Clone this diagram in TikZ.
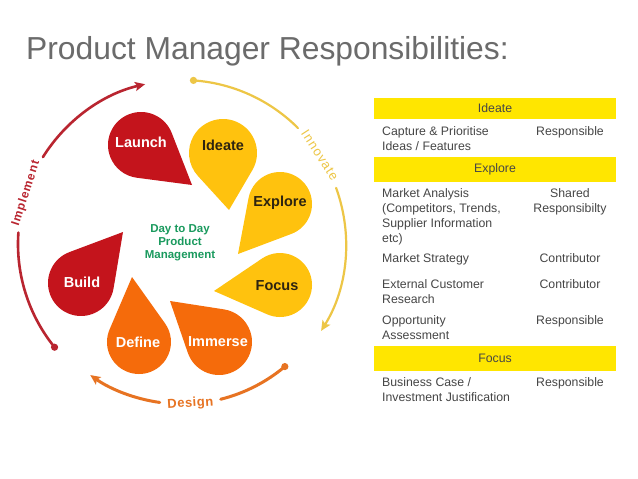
\documentclass[tikz,border=0pt]{standalone}
\usepackage{fontspec}
\setmainfont{Liberation Sans}
\usetikzlibrary{arrows.meta}
\definecolor{pinred}{HTML}{C4141C}
\definecolor{pinyellow}{HTML}{FFC20E}
\definecolor{pinorange}{HTML}{F56B0B}
\definecolor{implc}{HTML}{B92530}
\definecolor{innoc}{HTML}{EDC646}
\definecolor{desc}{HTML}{E77322}
\definecolor{greenc}{HTML}{1A9A5E}
\definecolor{darktext}{HTML}{2E2410}
\definecolor{titlegray}{HTML}{6B6B6B}
\definecolor{tabtext}{HTML}{464646}
\definecolor{barY}{HTML}{FFE600}
\newcommand\droplet[6]{%
  \pgfmathsetmacro\dpdx{#5-#2}%
  \pgfmathsetmacro\dpdy{#3-#6}%
  \pgfmathsetmacro\dpd{veclen(\dpdx,\dpdy)}%
  \pgfmathsetmacro\dpth{atan2(\dpdy,\dpdx)}%
  \pgfmathsetmacro\dpal{acos(#4/\dpd)}%
  \pgfmathsetmacro\dpa{\dpth+\dpal}%
  \pgfmathsetmacro\dpb{\dpth-\dpal+360}%
  \fill[#1] (#5,-#6) -- ([shift={(\dpa:#4)}]#2,-#3) arc[start angle=\dpa, end angle=\dpb, radius=#4] -- cycle;%
}
\begin{document}
\begin{tikzpicture}[x=1pt,y=1pt,
  pinlbl/.style={font=\bfseries\fontsize{14.5}{16}\selectfont, inner sep=0},
  arclbl/.style={inner sep=0},
  tabcell/.style={anchor=base west, inner sep=0, align=left, text=tabtext, font=\fontsize{12.3}{15}\selectfont},
  tabright/.style={anchor=base, inner sep=0, align=center, text=tabtext, font=\fontsize{12.3}{15}\selectfont},
  bar/.style={fill=barY, minimum width=242, minimum height=#1, inner sep=0, text=tabtext, font=\fontsize{12.3}{15}\selectfont},
  arcline/.style={line width=2.6, line cap=round},
  arrowtip/.style={-{Stealth[length=10pt,width=9pt,inset=2pt]}}
]
\useasboundingbox (0,0) rectangle (638,-479);
\fill[white] (0,0) rectangle (638,-479);

% title
\node[anchor=base west, inner sep=0, text=titlegray, font=\fontsize{31.8}{36}\selectfont] (title) at (26,-59) {Product Manager Responsibilities:};

% outer arcs (center 182,244)
\coordinate (ctr) at (182,-244);
% Implement
\fill[implc] ([shift={(219:164)}]ctr) circle[radius=3.6];
\draw[arcline, implc] ([shift={(219:164)}]ctr) arc[start angle=219, end angle=176, radius=164];
\draw[arcline, implc, arrowtip] ([shift={(148:164)}]ctr) arc[start angle=148, end angle=103, radius=164];
\node[arclbl, rotate=72, text=implc, font=\bfseries\fontsize{12}{14}\selectfont\addfontfeature{LetterSpace=8}] (impl) at ([shift={(162:164)}]ctr) {Implement};
% Innovate
\fill[innoc] ([shift={(86:164)}]ctr) circle[radius=3.6];
\draw[line width=2.2, line cap=round, innoc] ([shift={(86:164)}]ctr) arc[start angle=86, end angle=45, radius=164];
\draw[line width=2.2, line cap=round, innoc, arrowtip] ([shift={(20:164)}]ctr) arc[start angle=20, end angle=-32, radius=164];
\node[arclbl, rotate=-57, text=innoc, font=\fontsize{13}{15}\selectfont\addfontfeature{LetterSpace=8}] (inno) at ([shift={(32.7:164)}]ctr) {Innovate};
% Design
\fill[desc] ([shift={(-50:160)}]ctr) circle[radius=3.6];
\draw[line width=3, line cap=round, desc] ([shift={(-50:160)}]ctr) arc[start angle=-50, end angle=-76, radius=160];
\draw[line width=3, line cap=round, desc, arrowtip] ([shift={(-98:160)}]ctr) arc[start angle=-98, end angle=-125, radius=160];
\node[arclbl, rotate=3.5, text=desc, font=\bfseries\fontsize{13}{15}\selectfont\addfontfeature{LetterSpace=4}] (des) at ([shift={(-87:160)}]ctr) {Design};

% droplets
\droplet{pinred}{141}{145}{33}{192}{185}
\droplet{pinyellow}{223}{153}{34}{229}{210}
\droplet{pinyellow}{280}{204}{32}{238}{254}
\droplet{pinyellow}{280}{285}{32}{214}{291}
\droplet{pinorange}{219}{342}{33}{170}{301}
\droplet{pinorange}{139}{342}{32}{132}{277}
\droplet{pinred}{81}{283}{33}{123}{232}

\node[pinlbl, text=white] (launch) at (141,-142) {Launch};
\node[pinlbl, text=darktext] (ideate) at (223,-145) {Ideate};
\node[pinlbl, text=darktext] (explore) at (280,-203) {Explore};
\node[pinlbl, text=darktext] (focus) at (277,-286) {Focus};
\node[pinlbl, text=white] (immerse) at (218,-342) {Immerse};
\node[pinlbl, text=white] (define) at (138,-342) {Define};
\node[pinlbl, text=white] (build) at (82,-282) {Build};

\node[inner sep=0, align=center, text=greenc, font=\bfseries\fontsize{11.5}{13}\selectfont] (center) at (180,-243) {Day to Day\\Product\\Management};

% table (multi-line cells: base = baseline of last line)
\node[bar=21] (bIdeate) at (495,-108.5) {Ideate};
\node[tabcell] (c1) at (382,-150.7) {Capture \& Prioritise\\Ideas / Features};
\node[tabright] (r1) at (570,-135.7) {Responsible};
\node[bar=25] (bExplore) at (495,-169) {Explore};
\node[tabcell] (c2) at (382,-242) {Market Analysis\\(Competitors, Trends,\\Supplier Information\\etc)};
\node[tabright] (r2) at (570,-212) {Shared\\Responsibilty};
\node[tabcell] (c3) at (382,-262.7) {Market Strategy};
\node[tabright] (r3) at (570,-262.7) {Contributor};
\node[tabcell] (c4) at (382,-303.3) {External Customer\\Research};
\node[tabright] (r4) at (570,-288.3) {Contributor};
\node[tabcell] (c5) at (382,-339) {Opportunity\\Assessment};
\node[tabright] (r5) at (570,-324) {Responsible};
\node[bar=25] (bFocus) at (495,-358.5) {Focus};
\node[tabcell] (c6) at (382,-401.7) {Business Case /\\Investment Justification};
\node[tabright] (r6) at (570,-386.7) {Responsible};
\end{tikzpicture}
\end{document}
